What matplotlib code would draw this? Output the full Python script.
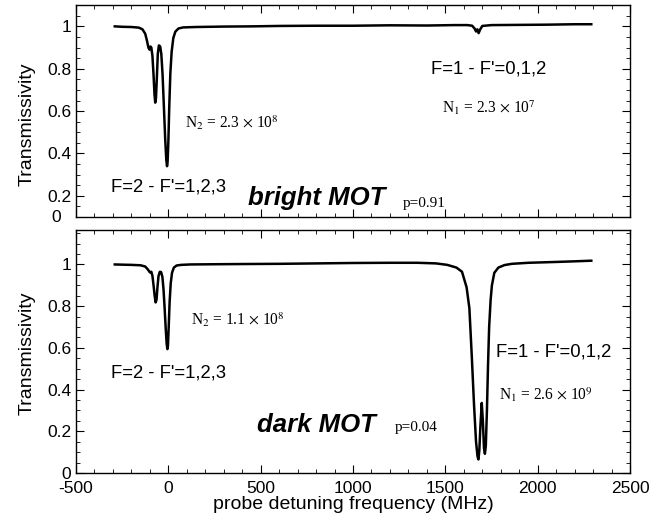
import numpy as np
import matplotlib.pyplot as plt
from matplotlib.ticker import MultipleLocator

## Donnees (MHz, transmission)
bright_x = [-290, -250, -200, -160, -140, -125, -115, -108, -102, -97, -92, -86, -80, -75, -71,
            -67, -62, -57, -51, -44, -38, -31, -24, -17, -11, -7, -4, 0, 5, 11, 18, 27, 38, 55,
            80, 150, 300, 450, 600, 800, 1000, 1200, 1400, 1550, 1620, 1645, 1658, 1666, 1673,
            1680, 1688, 1700, 1750, 1900, 2050, 2200, 2290]
bright_y = [1.000, 0.998, 0.997, 0.994, 0.986, 0.965, 0.930, 0.900, 0.890, 0.905, 0.900, 0.860,
            0.770, 0.680, 0.640, 0.660, 0.760, 0.870, 0.910, 0.905, 0.870, 0.770, 0.620, 0.470,
            0.370, 0.340, 0.360, 0.450, 0.620, 0.780, 0.880, 0.945, 0.975, 0.990, 0.995, 0.997,
            0.999, 1.000, 1.002, 1.003, 1.003, 1.005, 1.004, 1.006, 1.006, 1.003, 0.990, 0.976,
            0.986, 0.968, 0.985, 1.002, 1.006, 1.007, 1.008, 1.010, 1.010]

dark_x = [-290, -250, -200, -150, -125, -110, -100, -92, -86, -80, -74, -69, -64, -59, -53, -46,
          -39, -32, -26, -20, -14, -9, -5, -2, 2, 7, 13, 20, 30, 45, 70, 120, 250, 400, 600, 800,
          1000, 1200, 1350, 1450, 1510, 1560, 1590, 1615, 1630, 1643, 1655, 1666, 1674, 1679,
          1684, 1690, 1697, 1703, 1709, 1714, 1719, 1725, 1731, 1737, 1745, 1752, 1765, 1787,
          1820, 1860, 1950, 2100, 2200, 2290]
dark_y = [1.000, 0.999, 0.998, 0.996, 0.990, 0.975, 0.962, 0.965, 0.945, 0.900, 0.850, 0.818,
          0.830, 0.890, 0.945, 0.965, 0.963, 0.940, 0.880, 0.790, 0.690, 0.620, 0.594, 0.610,
          0.700, 0.820, 0.910, 0.960, 0.985, 0.995, 0.998, 1.000, 1.001, 1.002, 1.003, 1.005,
          1.007, 1.008, 1.008, 1.005, 0.998, 0.985, 0.965, 0.890, 0.790, 0.560, 0.330, 0.150,
          0.080, 0.065, 0.110, 0.230, 0.336, 0.250, 0.120, 0.092, 0.130, 0.300, 0.520, 0.700,
          0.830, 0.900, 0.960, 0.985, 0.997, 1.003, 1.008, 1.012, 1.015, 1.018]

plt.rcParams['font.family'] = ['Liberation Sans', 'DejaVu Sans']
plt.rcParams['mathtext.fontset'] = 'stix'
plt.rcParams['axes.unicode_minus'] = False
serif = 'Liberation Serif'

fig = plt.figure(figsize=(6.7, 5.18), dpi=100)
ax1 = fig.add_axes([0.1134, 0.581, 0.827, 0.409])
ax2 = fig.add_axes([0.1134, 0.0869, 0.827, 0.469])

for ax in (ax1, ax2):
    ax.set_xlim(-500, 2500)
    ax.xaxis.set_major_locator(MultipleLocator(500))
    ax.xaxis.set_minor_locator(MultipleLocator(100))
    ax.yaxis.set_major_locator(MultipleLocator(0.2))
    ax.yaxis.set_minor_locator(MultipleLocator(0.05))
    ax.tick_params(which='both', direction='in', top=True, right=True, labelsize=12.5)
    ax.tick_params(which='major', length=6)
    ax.tick_params(which='minor', length=3)
    ax.tick_params(axis='x', pad=6)
    ax.set_ylabel("Transmissivity", fontsize=14)
    for s in ax.spines.values():
        s.set_linewidth(1.0)

## panneau du haut
ax1.plot(bright_x, bright_y, color='black', lw=1.8)
ax1.set_ylim(0.1, 1.1)
ax1.set_yticks([0.2, 0.4, 0.6, 0.8, 1.0])
ax1.set_yticklabels(["0.2", "0.4", "0.6", "0.8", "1"])
ax1.tick_params(labelbottom=False)
ax1.text(-0.027, 0.0, "0", transform=ax1.transAxes, ha='right', va='center', fontsize=12.5)
ax1.yaxis.set_label_coords(-0.072, 0.44)
ax1.text(1736, 0.80, "F=1 - F'=0,1,2", ha='center', va='center', fontsize=13.3)
ax1.text(1736, 0.618, r"N$_1$ = 2.3 $\times$ 10$^7$", ha='center', va='center', fontsize=11.2, family=serif)
ax1.text(345, 0.547, r"N$_2$ = 2.3 $\times$ 10$^8$", ha='center', va='center', fontsize=11.2, family=serif)
ax1.text(0, 0.243, "F=2 - F'=1,2,3", ha='center', va='center', fontsize=13.3)
ax1.text(432, 0.192, "bright MOT", ha='left', va='center', fontsize=18.5, fontweight='bold', style='italic')
ax1.text(1269, 0.162, "p=0.91", ha='left', va='center', fontsize=11, family=serif)

## panneau du bas
ax2.plot(dark_x, dark_y, color='black', lw=1.8)
ax2.set_ylim(0, 1.165)
ax2.set_yticks([0, 0.2, 0.4, 0.6, 0.8, 1.0])
ax2.set_yticklabels(["0", "0.2", "0.4", "0.6", "0.8", "1"])
ax2.yaxis.set_label_coords(-0.072, 0.494)
ax2.set_xlabel("probe detuning frequency (MHz)", fontsize=14, labelpad=0)
ax2.text(378, 0.734, r"N$_2$ = 1.1 $\times$ 10$^8$", ha='center', va='center', fontsize=11.2, family=serif)
ax2.text(0, 0.48, "F=2 - F'=1,2,3", ha='center', va='center', fontsize=13.3)
ax2.text(478, 0.232, "dark MOT", ha='left', va='center', fontsize=18.5, fontweight='bold', style='italic')
ax2.text(1227, 0.219, "p=0.04", ha='left', va='center', fontsize=11, family=serif)
ax2.text(2087, 0.582, "F=1 - F'=0,1,2", ha='center', va='center', fontsize=13.3)
ax2.text(2045, 0.375, r"N$_1$ = 2.6 $\times$ 10$^9$", ha='center', va='center', fontsize=11.2, family=serif)

fig.savefig("out.png", dpi=100)
